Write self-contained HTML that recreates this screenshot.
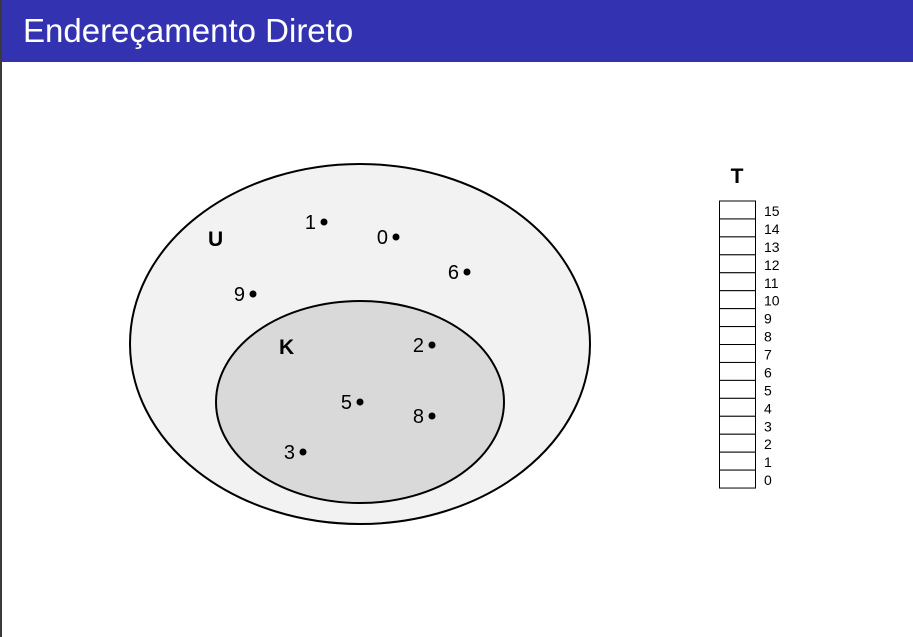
<!DOCTYPE html>
<html><head><meta charset="utf-8"><style>
html,body{margin:0;padding:0;width:913px;height:637px;overflow:hidden;background:#fff;font-family:"Liberation Sans","DejaVu Sans",sans-serif;}
#bar{position:absolute;left:0;top:0;width:913px;height:62px;background:#3333B2;}
#title{position:absolute;left:23px;top:12px;color:#fff;font-size:33px;line-height:38px;}
#lb{position:absolute;left:0;top:0;width:2px;height:637px;background:#3a3a3a;}
svg{position:absolute;left:0;top:0;}
</style></head><body>
<div id="bar"></div>
<div id="title">Endereçamento Direto</div>
<div id="lb"></div>
<svg id="chart" width="913" height="637">
<ellipse cx="360" cy="344" rx="230" ry="180" fill="#f2f2f2" stroke="#000" stroke-width="2"/>
<ellipse cx="360" cy="402" rx="144" ry="101" fill="#d9d9d9" stroke="#000" stroke-width="2"/>
<text x="208" y="246" font-size="21" font-weight="bold">U</text>
<text x="279" y="354" font-size="21" font-weight="bold">K</text>
<text x="737" y="183" font-size="21" font-weight="bold" text-anchor="middle">T</text>
<g id="pts"></g>
<g id="tbl"></g>
</svg>
<script>
const keys=["1","0","6","9","2","5","8","3"];
const keyX=[324,396,467,253,432,360,432,303];
const keyY=[222,237,272,294,345,402,416,452];
const slots=[15,14,13,12,11,10,9,8,7,6,5,4,3,2,1,0];
const NS="http://www.w3.org/2000/svg";
const pts=document.getElementById('pts');
keys.forEach((k,i)=>{
  const c=document.createElementNS(NS,'circle');
  c.setAttribute('cx',keyX[i]);c.setAttribute('cy',keyY[i]);c.setAttribute('r',3.5);c.setAttribute('fill','#000');
  
  
  pts.appendChild(c);
  const t=document.createElementNS(NS,'text');
  t.setAttribute('x',keyX[i]-8);t.setAttribute('y',keyY[i]+7);t.setAttribute('font-size','20');t.setAttribute('text-anchor','end');
  t.textContent=k;
  
  
  pts.appendChild(t);
});
const tbl=document.getElementById('tbl');
const top0=201,h=17.94;
slots.forEach((s,i)=>{
  const y=top0+i*h;
  const r=document.createElementNS(NS,'rect');
  r.setAttribute('x',719.5);r.setAttribute('y',y);r.setAttribute('width',36);r.setAttribute('height',h);
  r.setAttribute('fill','#fff');r.setAttribute('stroke','#000');r.setAttribute('stroke-width','1');
  
  
  tbl.appendChild(r);
  const t=document.createElementNS(NS,'text');
  t.setAttribute('x',764);t.setAttribute('y',y+15);t.setAttribute('font-size','14');
  t.textContent=s;
  
  
  tbl.appendChild(t);
});
</script>
</body></html>
